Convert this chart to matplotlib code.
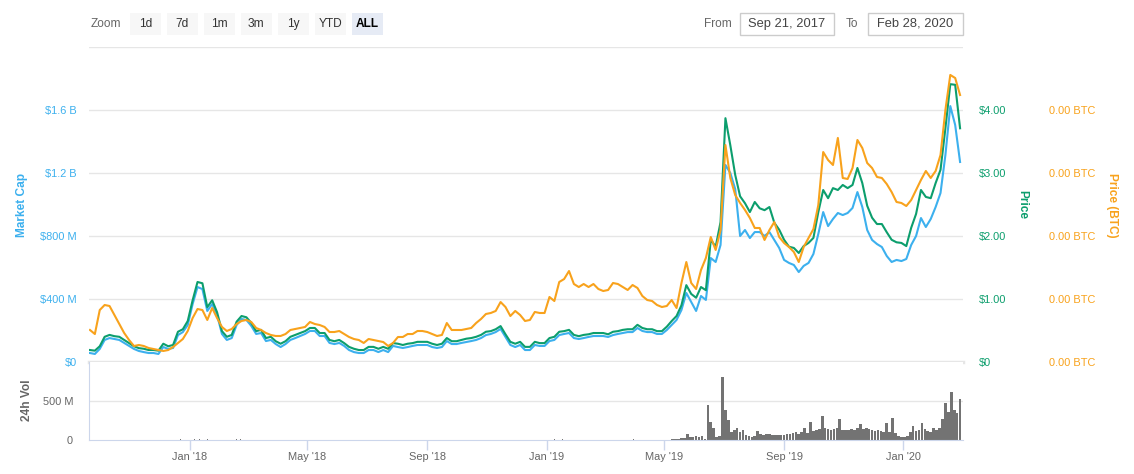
import numpy as np
import pandas as pd
import matplotlib.pyplot as plt
from matplotlib.patches import Rectangle

plt.rcParams['font.family'] = ['Liberation Sans', 'DejaVu Sans']

# ---- data (every 5 days, Sep 21 2017 - Feb 28 2020) ----
dates = pd.date_range('2017-09-21', '2020-02-28', freq='5D')

market_cap_m = [
    57, 51, 83, 140, 152, 146, 140, 121, 102, 83,
    70, 63, 57, 57, 51, 95, 83, 89, 171, 190,
    235, 368, 476, 463, 324, 368, 298, 178, 140, 152,
    235, 273, 267, 229, 178, 184, 133, 140, 114, 95,
    114, 140, 152, 165, 178, 197, 197, 165, 165, 121,
    114, 121, 102, 76, 63, 57, 57, 76, 76, 63,
    76, 63, 102, 95, 89, 95, 102, 108, 108, 108,
    95, 89, 95, 133, 114, 114, 121, 127, 133, 140,
    152, 171, 178, 190, 210, 159, 108, 95, 108, 76,
    76, 108, 102, 102, 133, 140, 171, 178, 184, 152,
    146, 152, 159, 165, 165, 165, 159, 171, 178, 184,
    190, 190, 216, 197, 190, 190, 178, 178, 203, 235,
    267, 330, 438, 381, 324, 419, 394, 660, 635, 743,
    1251, 1200, 1098, 800, 838, 787, 825, 825, 800, 825,
    775, 724, 648, 629, 616, 571, 610, 629, 686, 813,
    952, 863, 908, 946, 933, 946, 978, 1079, 984, 838,
    775, 749, 730, 673, 635, 648, 641, 654, 743, 800,
    914, 857, 908, 984, 1073, 1314, 1625, 1505, 1270,
]

price_usd = [
    0.19, 0.18, 0.25, 0.40, 0.43, 0.41, 0.40, 0.35, 0.30, 0.25,
    0.22, 0.21, 0.19, 0.19, 0.18, 0.29, 0.25, 0.27, 0.48, 0.52,
    0.65, 0.98, 1.27, 1.25, 0.87, 0.98, 0.79, 0.49, 0.40, 0.43,
    0.64, 0.73, 0.71, 0.62, 0.49, 0.51, 0.38, 0.40, 0.33, 0.29,
    0.33, 0.40, 0.43, 0.46, 0.49, 0.54, 0.54, 0.46, 0.46, 0.35,
    0.33, 0.35, 0.30, 0.24, 0.21, 0.19, 0.19, 0.24, 0.24, 0.21,
    0.24, 0.21, 0.30, 0.29, 0.27, 0.29, 0.30, 0.32, 0.32, 0.32,
    0.29, 0.27, 0.29, 0.38, 0.33, 0.33, 0.35, 0.37, 0.38, 0.40,
    0.43, 0.48, 0.49, 0.52, 0.57, 0.44, 0.32, 0.29, 0.32, 0.24,
    0.24, 0.32, 0.30, 0.30, 0.38, 0.40, 0.48, 0.49, 0.51, 0.43,
    0.41, 0.43, 0.44, 0.46, 0.46, 0.46, 0.44, 0.48, 0.49, 0.51,
    0.52, 0.52, 0.59, 0.54, 0.52, 0.52, 0.49, 0.49, 0.56, 0.65,
    0.73, 0.90, 1.22, 1.08, 1.02, 1.19, 1.14, 1.94, 1.83, 2.22,
    3.87, 3.44, 2.97, 2.63, 2.52, 2.38, 2.54, 2.44, 2.41, 2.46,
    2.21, 2.10, 1.94, 1.83, 1.81, 1.73, 1.84, 1.89, 1.97, 2.38,
    2.73, 2.60, 2.76, 2.73, 2.81, 2.76, 2.81, 3.08, 2.84, 2.48,
    2.29, 2.19, 2.19, 2.06, 1.94, 1.90, 1.89, 1.84, 2.13, 2.35,
    2.73, 2.62, 2.60, 2.84, 3.05, 3.71, 4.41, 4.40, 3.71,
]

price_sat = [
    5080, 4440, 8250, 9050, 8890, 7460, 6030, 4600, 3490, 2540,
    2700, 2540, 2220, 2060, 1900, 1750, 1900, 2380, 3020, 3650,
    4920, 6980, 8410, 8250, 6670, 8570, 6980, 5560, 4920, 5240,
    6030, 6510, 6670, 6350, 5400, 5080, 4600, 4290, 4130, 4130,
    4440, 5080, 5240, 5400, 5560, 6350, 6030, 5870, 5560, 4760,
    4760, 4920, 4440, 3970, 3650, 3490, 3020, 3650, 3490, 3330,
    3170, 2540, 3020, 3970, 3970, 4440, 4440, 4920, 4920, 4760,
    4440, 4130, 4290, 6190, 5080, 5080, 5080, 5240, 5400, 6190,
    6830, 7620, 7780, 8100, 9520, 8730, 7300, 8100, 7460, 6510,
    6670, 7940, 7780, 7780, 10320, 9680, 12700, 13170, 14440, 12380,
    11900, 12380, 11900, 12380, 11590, 11270, 11430, 12540, 12380, 11900,
    11430, 12220, 11750, 10480, 9840, 9680, 9050, 8730, 8890, 9840,
    8570, 12540, 15870, 12540, 11590, 14600, 16510, 19840, 17780, 20950,
    34440, 29210, 26510, 25240, 24130, 22860, 21270, 21270, 19370, 20950,
    22220, 19840, 18890, 18250, 17460, 15870, 18250, 19680, 21110, 24920,
    33330, 32060, 31270, 35560, 29210, 29050, 30790, 35240, 33970, 31590,
    30790, 29370, 29210, 28250, 26980, 25400, 25240, 24760, 25710, 27300,
    28890, 30320, 29210, 30320, 32860, 40000, 45560, 45080, 42380,
]

# 24h volume (M USD), every 3 days from Apr 22 2019
vol_dates = pd.date_range('2019-04-22', '2020-02-28', freq='3D')
vol_m = [
    0, 0, 0, 0, 0, 6, 13, 13, 13, 26,
    26, 77, 38, 38, 51, 38, 51, 13, 448, 230,
    154, 38, 51, 806, 384, 256, 102, 128, 154, 102,
    128, 64, 51, 38, 51, 115, 77, 64, 77, 77,
    64, 64, 64, 64, 64, 77, 77, 90, 102, 77,
    102, 154, 90, 230, 115, 128, 141, 307, 154, 141,
    128, 141, 154, 269, 128, 128, 128, 141, 128, 154,
    205, 141, 154, 141, 128, 115, 128, 115, 102, 218,
    102, 282, 90, 51, 38, 38, 51, 102, 179, 115,
    128, 218, 141, 115, 102, 154, 128, 154, 269, 474,
    358, 614, 384, 346, 525,
]
vol_early_dates = pd.to_datetime(['2017-12-23', '2018-01-06', '2018-01-11', '2018-01-19',
                                  '2018-02-18', '2018-02-22', '2019-01-09', '2019-01-17',
                                  '2019-03-31'])
vol_early_m = [12, 14, 12, 10, 12, 10, 10, 12, 14]

month_ticks = pd.to_datetime(['2018-01-01', '2018-05-01', '2018-09-01', '2019-01-01',
                              '2019-05-01', '2019-09-01', '2020-01-01'])

BLUE = '#3cb0ee'
GREEN = '#0c9e6d'
ORANGE = '#f8a21c'
GREY = '#666666'
GRID = '#e6e6e6'
AXLINE = '#ccd6eb'

# ---- figure ----
W, H = 1134, 474
fig = plt.figure(figsize=(W / 100, H / 100), dpi=100)


def rect(x0, y0, x1, y1):
    return [x0 / W, 1 - y1 / H, (x1 - x0) / W, (y1 - y0) / H]


def px(x, y):
    return x / W, 1 - y / H


ax = fig.add_axes(rect(89, 47, 963, 362))
axv = fig.add_axes(rect(89, 362, 963, 440), sharex=ax)
ax_p = ax.twinx()
ax_b = ax.twinx()

ax.plot(dates, market_cap_m, color=BLUE, lw=1.5)
ax_p.plot(dates, price_usd, color=GREEN, lw=1.5)
ax_b.plot(dates, np.array(price_sat) / 1e8, color=ORANGE, lw=1.5)

ax.set_xlim(pd.Timestamp('2017-09-20'), pd.Timestamp('2020-03-02'))

ax.set_ylim(0, 2000)
ax.set_yticks([0, 400, 800, 1200, 1600, 2000])
ax.set_yticklabels(['$0', '$400 M', '$800 M', '$1.2 B', '$1.6 B', ''])
ax.grid(axis='y', color=GRID, lw=1)
ax.axhline(0, color=GRID, lw=2.5, clip_on=False)
ax.tick_params(axis='y', colors=BLUE, length=0, pad=8.6, labelsize=7.9)
ax.tick_params(axis='x', bottom=False, labelbottom=False)

ax_p.set_ylim(0, 5)
ax_p.set_yticks([0, 1, 2, 3, 4])
ax_p.set_yticklabels(['$0', '$1.00', '$2.00', '$3.00', '$4.00'])
ax_p.tick_params(axis='y', colors=GREEN, length=0, pad=11.5, labelsize=7.9)

ax_b.set_ylim(0, 5e-4)
ax_b.set_yticks([0, 1e-4, 2e-4, 3e-4, 4e-4])
ax_b.set_yticklabels(['%.2f BTC' % v for v in [0, 1e-4, 2e-4, 3e-4, 4e-4]])
ax_b.tick_params(axis='y', colors=ORANGE, length=0, pad=62, labelsize=7.9)

for a in (ax, ax_p, ax_b):
    for s in a.spines.values():
        s.set_visible(False)

# volume panel
axv.bar(vol_dates, vol_m, width=2.7, color='#737373', linewidth=0)
axv.bar(vol_early_dates, vol_early_m, width=1.2, color='#737373', linewidth=0)
axv.set_ylim(0, 1000)
axv.set_yticks([0, 500])
axv.set_yticklabels(['0', '500 M'])
axv.axhline(500, color=GRID, lw=1, zorder=0)
axv.tick_params(axis='y', colors=GREY, length=0, pad=11.5, labelsize=7.9)
axv.set_xticks(month_ticks)
axv.set_xticklabels([d.strftime("%b '%y") for d in month_ticks])
axv.tick_params(axis='x', colors=AXLINE, labelcolor=GREY, length=7, width=1,
                pad=2, labelsize=7.9)
axv.spines['top'].set_visible(False)
axv.spines['right'].set_visible(False)
axv.spines['left'].set_color(AXLINE)
axv.spines['bottom'].set_color(AXLINE)

# axis titles
fig.text(*px(22, 205), 'Market Cap', rotation=90, color=BLUE, weight='bold',
         fontsize=8.6, ha='center', va='center')
fig.text(*px(1022, 205), 'Price', rotation=270, color=GREEN, weight='bold',
         fontsize=8.6, ha='center', va='center')
fig.text(*px(1112, 205), 'Price (BTC)', rotation=270, color=ORANGE, weight='bold',
         fontsize=8.6, ha='center', va='center')
fig.text(*px(27, 400), '24h Vol', rotation=90, color=GREY, weight='bold',
         fontsize=8.6, ha='center', va='center')

# range selector toolbar
fig.text(*px(91, 24), 'Zoom', color=GREY, fontsize=8.6, va='center')
buttons = ['1d', '7d', '1m', '3m', '1y', 'YTD', 'ALL']
for k, lab in enumerate(buttons):
    x0 = 129.5 + 37 * k
    active = lab == 'ALL'
    fig.patches.append(Rectangle(px(x0, 35), 31.5 / W, 22 / H, transform=fig.transFigure,
                                 facecolor='#e6ebf5' if active else '#f7f7f7',
                                 edgecolor='none'))
    fig.text(*px(x0 + 15.75, 24), lab, color='#000000' if active else '#333333',
             weight='bold' if active else 'normal', fontsize=8.6,
             ha='center', va='center')

fig.text(*px(704, 24), 'From', color=GREY, fontsize=8.6, va='center')
fig.text(*px(846, 24), 'To', color=GREY, fontsize=8.6, va='center')
for x0, x1, lab in [(740, 834, 'Sep 21, 2017'), (868, 963, 'Feb 28, 2020')]:
    fig.patches.append(Rectangle(px(x0, 34.5), (x1 - x0) / W, 21.5 / H,
                                 transform=fig.transFigure, facecolor='white',
                                 edgecolor='#cccccc', lw=1))
    fig.text(*px((x0 + x1) / 2, 24), lab, color='#444444', fontsize=9.3,
             ha='center', va='center')

fig.savefig('out.png', dpi=100)
